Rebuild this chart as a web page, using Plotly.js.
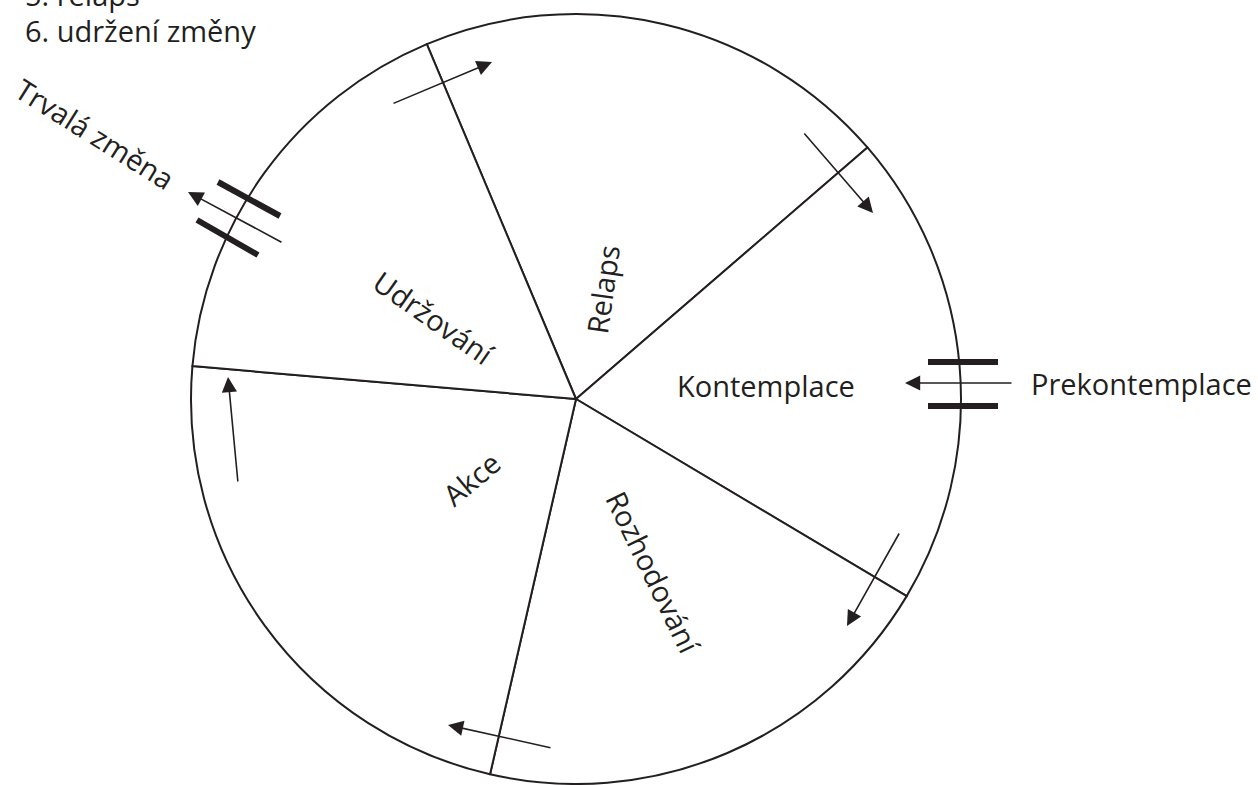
<!DOCTYPE html>
<html>
<head>
<meta charset="utf-8">
<script src="https://cdn.plot.ly/plotly-3.0.1.min.js"></script>
<style>html,body{margin:0;padding:0;background:#fff;}#chart{width:1258px;height:785px;}</style>
</head>
<body>
<div id="chart"></div>
<script>
// ---- data ----
const stages = ['Relaps', 'Kontemplace', 'Rozhodování', 'Akce', 'Udržování'];
const sectorDegrees = [72.0, 71.6, 72.1, 82.0, 62.3];
const listLines = ['5. relaps', '6. udržení změny'];
const entryLabel = 'Prekontemplace';
const exitLabel = 'Trvalá změna';

// ---- layout helpers (page pixels -> paper) ----
const W = 1258, H = 785;
const INK = '#231f20';
const FONT = 'Open Sans, Noto Sans, sans-serif';
const FS = 29;
function px(x) { return x / W; }
function py(y) { return 1 - y / H; }

const cx = 576, cy = 399, R = 385;

// label placement (centre x, centre y, angle)
const stageLabelPos = [
  [603, 290, -82],
  [766, 385, 0],
  [654, 572, 64],
  [471, 478, -40],
  [434, 317, 35]
];

// arrows: [tipX, tipY, tailX, tailY]
const arrows = [
  [492, 62, 392, 104],
  [873, 213, 803, 132],
  [905, 383, 1013, 383],
  [847, 626, 900, 532],
  [448, 725, 552, 748],
  [228, 377, 238, 483],
  [188, 192, 283, 243]
];
// thick bars: [x0, y0, x1, y1]
const bars = [
  [928, 362, 998, 362],
  [928, 406, 998, 406],
  [218, 182, 280, 216],
  [197, 220, 258, 255]
];

const pie = {
  type: 'pie',
  labels: stages,
  values: sectorDegrees,
  sort: false,
  direction: 'clockwise',
  rotation: -22.8,
  textinfo: 'none',
  hoverinfo: 'none',
  showlegend: false,
  marker: {colors: stages.map(() => '#ffffff'), line: {color: INK, width: 2}},
  domain: {x: [px(cx - R), px(cx + R)], y: [py(cy + R), py(cy - R)]}
};

const annotations = [];
stages.forEach((s, i) => {
  const p = stageLabelPos[i];
  annotations.push({
    xref: 'paper', yref: 'paper', x: px(p[0]), y: py(p[1]),
    xanchor: 'center', yanchor: 'middle', showarrow: false,
    text: s, textangle: p[2], font: {family: FONT, size: FS, color: INK}
  });
});
annotations.push({
  xref: 'paper', yref: 'paper', x: px(1141), y: py(383),
  xanchor: 'center', yanchor: 'middle', showarrow: false,
  text: entryLabel, font: {family: FONT, size: FS, color: INK}
});
annotations.push({
  xref: 'paper', yref: 'paper', x: px(95), y: py(134),
  xanchor: 'center', yanchor: 'middle', showarrow: false,
  text: exitLabel, textangle: 32, font: {family: FONT, size: FS, color: INK}
});
listLines.forEach((t, i) => {
  annotations.push({
    xref: 'paper', yref: 'paper', x: px(23), y: py(-6 + 37 * i),
    xanchor: 'left', yanchor: 'middle', showarrow: false,
    text: t, font: {family: FONT, size: FS, color: INK}
  });
});
arrows.forEach(a => {
  annotations.push({
    xref: 'paper', yref: 'paper', x: px(a[0]), y: py(a[1]),
    ax: a[2] - a[0], ay: a[3] - a[1], axref: 'pixel', ayref: 'pixel',
    text: '', showarrow: true, arrowhead: 2, arrowsize: 1.9,
    arrowwidth: 1.6, arrowcolor: INK, standoff: 0, startstandoff: 0
  });
});

const shapes = bars.map(b => ({
  type: 'line', xref: 'paper', yref: 'paper',
  x0: px(b[0]), y0: py(b[1]), x1: px(b[2]), y1: py(b[3]),
  line: {color: INK, width: 6}
}));

const layout = {
  width: W, height: H,
  margin: {l: 0, r: 0, t: 0, b: 0},
  paper_bgcolor: '#ffffff',
  showlegend: false,
  annotations: annotations,
  shapes: shapes
};

Plotly.newPlot('chart', [pie], layout, {staticPlot: true, displayModeBar: false});
</script>
</body>
</html>
